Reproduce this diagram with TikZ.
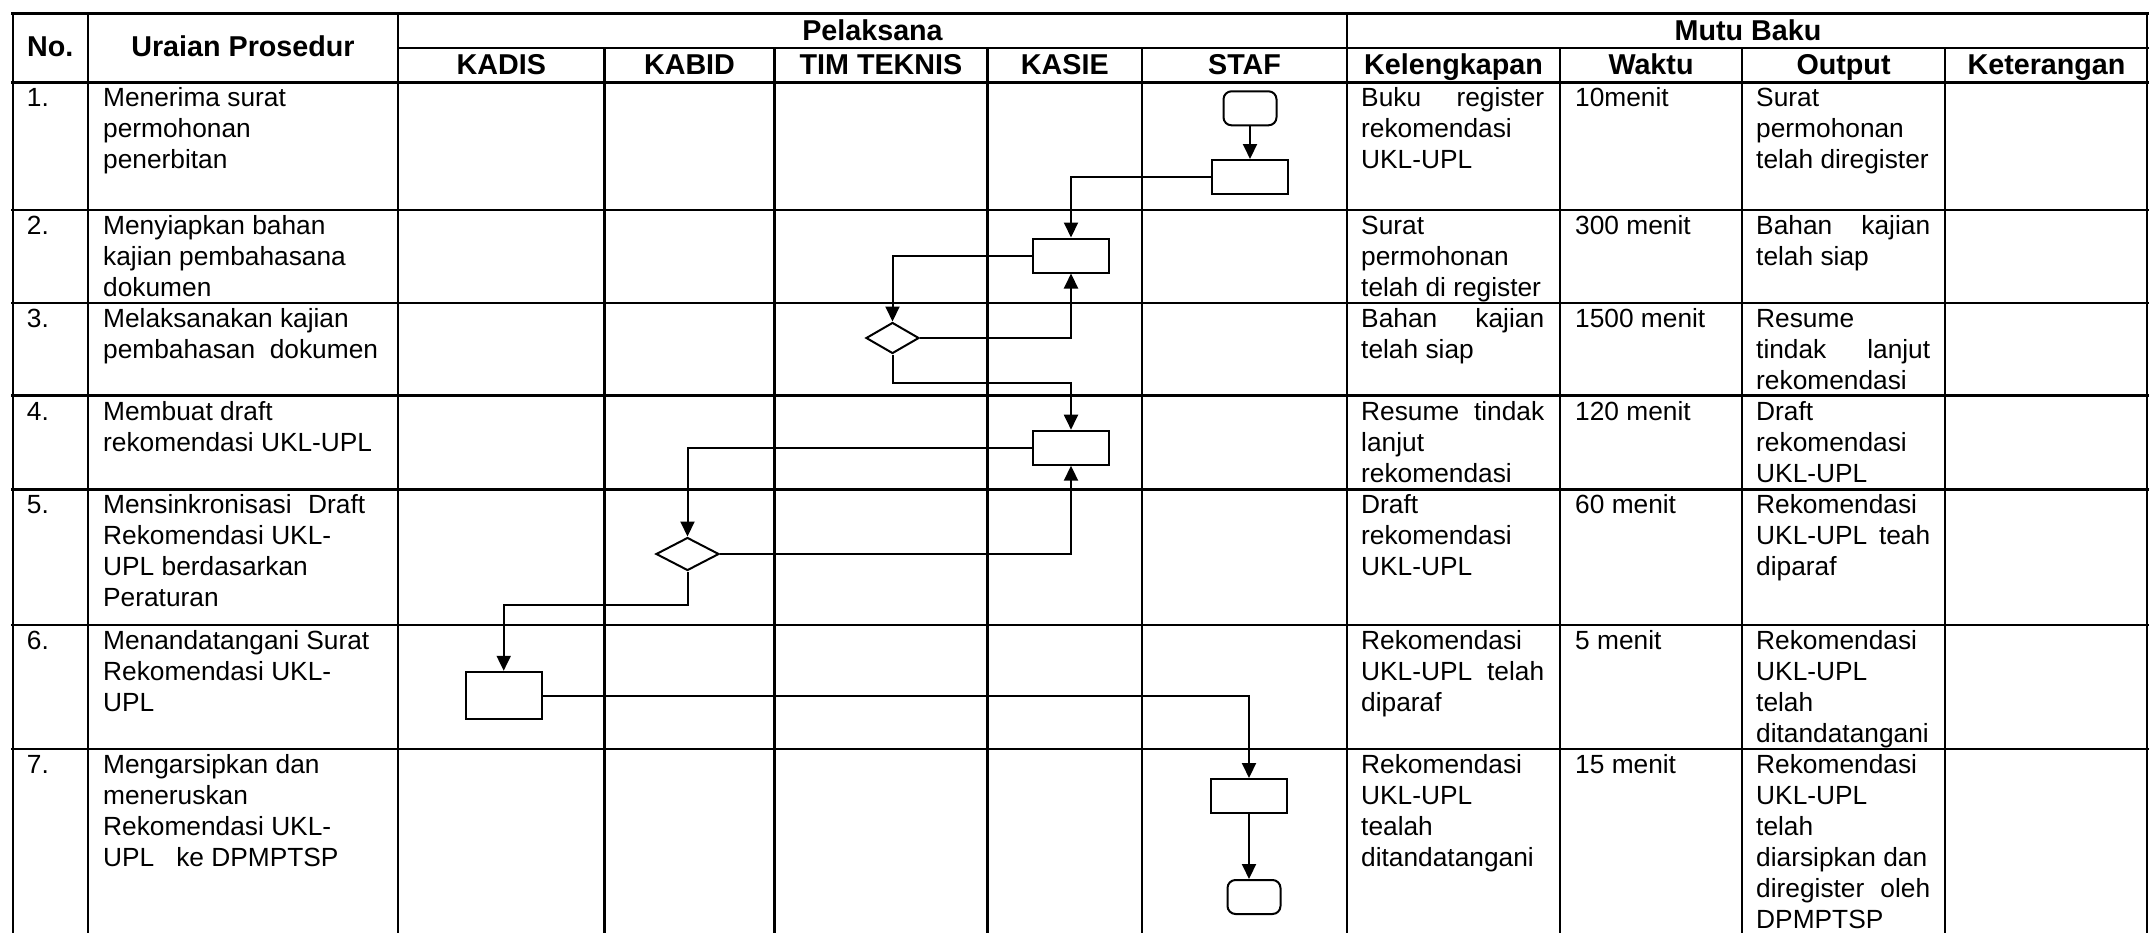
\documentclass[tikz,border=0pt]{standalone}
\usepackage{fontspec}
\setmainfont{Liberation Sans}
\usetikzlibrary{arrows.meta,shapes.geometric}
\newcommand\bodyfnt{\fontsize{26.3pt}{31pt}\selectfont}
\newcommand\headfnt{\fontsize{28.7pt}{34pt}\selectfont\bfseries}
\newcommand\strt{\rule{0pt}{24pt}}
\newcommand\jw[2]{\makebox[#1][s]{\spaceskip=0pt\xspaceskip=0pt #2}}
\newcommand\jk[1]{\jw{183pt}{#1}}
\newcommand\jo[1]{\jw{174pt}{#1}}
\newcommand\prow[7]{%
  \node[cell,text width=60pt]  (no#1) at (26.7,#2+0.4) {\strt#3};
  \node[cell,text width=290pt] (ur#1) at (103,#2+0.4) {\strt#4};
  \node[cell,text width=200pt] (kl#1) at (1361,#2+0.4) {\strt#5};
  \node[cell,text width=160pt] (wk#1) at (1575,#2+0.4) {\strt#6};
  \node[cell,text width=190pt] (ou#1) at (1756,#2+0.4) {\strt#7};}
\begin{document}
\begin{tikzpicture}[x=1pt,y=-1pt,
  hl/.style={line width=2.8pt,line cap=rect},
  vl/.style={line width=2.2pt},
  cell/.style={anchor=north west,inner sep=0pt,align=left,font=\bodyfnt,
    execute at begin node={\spaceskip=0pt\xspaceskip=0pt}},
  hd/.style={anchor=base,inner sep=0pt,font=\headfnt},
  shp/.style={draw,line width=2pt,inner sep=0pt},
  proc/.style={shp,rectangle,minimum width=76pt,minimum height=34pt},
  term/.style={shp,rectangle,rounded corners=8pt,minimum width=53pt,minimum height=34pt},
  dec/.style={shp,diamond,minimum width=53pt,minimum height=31pt},
  flow/.style={line width=2pt,-{Triangle[length=15pt,width=14pt]}}]
\useasboundingbox (0,0) rectangle (2149,932);
% grid
\draw[hl] (12.6,13.3) -- (2148,13.3);
\draw[hl] (398,48) -- (2148,48);
\draw[hl] (12.6,82.3) -- (2148,82.3);
\foreach \y in {210,303,395.5,489.3,625,749} \draw[hl] (12.6,\y) -- (2148,\y);
\foreach \x in {12.6,88,398,1347,2147} \draw[vl] (\x,13.3) -- (\x,934);
\foreach \x in {604.5,774.5,987.5,1142,1560,1742,1945} \draw[vl] (\x,48) -- (\x,934);
% headers
\node[hd] (hno) at (50.3,56.7) {No.};
\node[hd] (hur) at (243,56.7) {Uraian Prosedur};
\node[hd] (hpl) at (872.5,40.7) {Pelaksana};
\node[hd] (hmb) at (1748,40.7) {Mutu Baku};
\node[hd] (hkadis) at (501.3,74) {KADIS};
\node[hd] (hkabid) at (689.5,74) {KABID};
\node[hd] (htim) at (881,74) {TIM TEKNIS};
\node[hd] (hkasie) at (1064.8,74) {KASIE};
\node[hd] (hstaf) at (1244.5,74) {STAF};
\node[hd] (hkel) at (1453.5,74) {Kelengkapan};
\node[hd] (hwak) at (1651,74) {Waktu};
\node[hd] (hout) at (1843.5,74) {Output};
\node[hd] (hket) at (2046.5,74) {Keterangan};
% rows
\prow{1}{82.3}{1.}{Menerima surat\\permohonan\\penerbitan}{\jk{Buku register}\\rekomendasi\\UKL-UPL}{10menit}{Surat\\permohonan\\telah diregister}
\prow{2}{210}{2.}{Menyiapkan bahan\\kajian pembahasana\\dokumen}{Surat\\permohonan\\telah di register}{300 menit}{\jo{Bahan kajian}\\telah siap}
\prow{3}{303}{3.}{Melaksanakan kajian\\pembahasan\ \ dokumen}{\jk{Bahan kajian}\\telah siap}{1500 menit}{Resume\\\jo{tindak lanjut}\\rekomendasi}
\prow{4}{395.5}{4.}{Membuat draft\\rekomendasi UKL-UPL}{\jk{Resume tindak}\\lanjut\\rekomendasi}{120 menit}{Draft\\rekomendasi\\UKL-UPL}
\prow{5}{489.3}{5.}{\jw{262pt}{Mensinkronisasi Draft}\\Rekomendasi UKL-\\UPL berdasarkan\\Peraturan}{Draft\\rekomendasi\\UKL-UPL}{60 menit}{Rekomendasi\\\jo{UKL-UPL teah}\\diparaf}
\prow{6}{625}{6.}{Menandatangani Surat\\Rekomendasi UKL-\\UPL}{Rekomendasi\\\jk{UKL-UPL telah}\\diparaf}{5 menit}{Rekomendasi\\UKL-UPL\\telah\\ditandatangani}
\prow{7}{749}{7.}{Mengarsipkan dan\\meneruskan\\Rekomendasi UKL-\\UPL\ \ \ ke DPMPTSP}{Rekomendasi\\UKL-UPL\\tealah\\ditandatangani}{15 menit}{Rekomendasi\\UKL-UPL\\telah\\diarsipkan dan\\\jo{diregister oleh}\\DPMPTSP}
% flowchart
\node[term] (t1) at (1250,108.3) {};
\node[proc] (r1) at (1250,177) {};
\node[proc] (r2) at (1071,255.5) {};
\node[dec] (d3) at (892.5,338) {};
\node[proc] (r4) at (1071,447.7) {};
\node[dec,minimum width=63pt,minimum height=33pt] (d5) at (687.5,554) {};
\node[proc,minimum height=47.5pt] (r6) at (503.7,695.5) {};
\node[proc] (r7) at (1249,796) {};
\node[term] (t2) at (1254,897) {};
\coordinate (k3) at (892.5,383.3);
\coordinate (k5) at (687.5,605);
\draw[flow] (t1) -- (r1);
\draw[flow] (r1.west) -| (r2.north);
\draw[flow] (r2.west) -| (d3.north);
\draw[flow] (d3.east) -| (r2.south);
\draw[flow] (d3.south) -- (k3) -| (r4.north);
\draw[flow] (r4.west) -| (d5.north);
\draw[flow] (d5.east) -| (r4.south);
\draw[flow] (d5.south) -- (k5) -| (r6.north);
\draw[flow] (r6.east) -| (r7.north);
\draw[flow] (r7.south) -- (r7.south |- t2.north);
\end{tikzpicture}
\end{document}
